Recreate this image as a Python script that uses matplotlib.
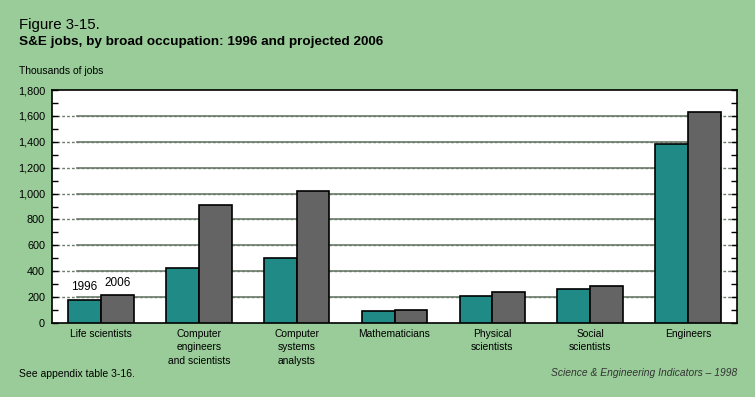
import numpy as np
import matplotlib.pyplot as plt
from matplotlib.ticker import MultipleLocator, FuncFormatter

plt.rcParams['font.family'] = ['Liberation Sans', 'DejaVu Sans']

# data (thousands of jobs)
categories = ["Life scientists", "Computer\nengineers\nand scientists", "Computer\nsystems\nanalysts",
              "Mathematicians", "Physical\nscientists", "Social\nscientists", "Engineers"]
jobs_1996 = [178, 422, 502, 93, 209, 263, 1380]
jobs_2006 = [214, 909, 1020, 100, 240, 286, 1628]

bg = '#99cc99'
teal = '#1f8a86'
grey = '#646464'

fig = plt.figure(figsize=(7.55, 3.97), dpi=100, facecolor=bg)
ax = fig.add_axes([52/755, 1 - 323/397, 685/755, 233/397])
ax.set_facecolor('white')

x = np.arange(len(categories))
w = 0.335
ax.bar(x - w/2, jobs_1996, w, color=teal, edgecolor='black', linewidth=1.2, zorder=3)
ax.bar(x + w/2, jobs_2006, w, color=grey, edgecolor='black', linewidth=1.2, zorder=3)

ax.set_xlim(-0.5, len(categories) - 0.5)
ax.set_ylim(0, 1800)

# gridlines: dotted near the axes, solid across the bars
for yv in range(200, 1800, 200):
    ax.plot([-0.5, 6.5], [yv, yv], color='#6b7b6b', lw=1, ls=(0, (2, 1.5)), zorder=1)
    ax.plot([-0.24, 6 + w], [yv, yv], color='#6b7b6b', lw=1.2, zorder=2)

ax.yaxis.set_major_locator(MultipleLocator(200))
ax.yaxis.set_minor_locator(MultipleLocator(100))
ax.yaxis.set_major_formatter(FuncFormatter(lambda v, p: f"{int(v):,}"))
ax.tick_params(axis='y', which='both', direction='in', length=4, width=1,
               left=True, right=True, labelsize=7.8, pad=5)
ax.tick_params(axis='x', length=0, labelsize=7.4, pad=4)
ax.set_xticks(x)
ax.set_xticklabels(categories, linespacing=1.45)
for s in ax.spines.values():
    s.set_linewidth(1.2)

ax.text(0 - w/2, jobs_1996[0] + 52, "1996", ha='center', va='bottom', fontsize=8.5, zorder=4)
ax.text(0 + w/2, jobs_2006[0] + 52, "2006", ha='center', va='bottom', fontsize=8.5, zorder=4)

fig.text(19/755, 1 - 25/397, "Figure 3-15.", fontsize=10.8, va='center')
fig.text(19/755, 1 - 42/397, "S&E jobs, by broad occupation: 1996 and projected 2006",
         fontsize=9.7, fontweight='bold', va='center')
fig.text(19/755, 1 - 71/397, "Thousands of jobs", fontsize=7.5, va='center')
fig.text(19/755, 1 - 374/397, "See appendix table 3-16.", fontsize=7.5, va='center')
fig.text(737/755, 1 - 373/397, "Science & Engineering Indicators \u2013 1998", fontsize=7.4,
         style='italic', ha='right', va='center', color='#333333')

fig.savefig('out.png', dpi=100, facecolor=bg)
